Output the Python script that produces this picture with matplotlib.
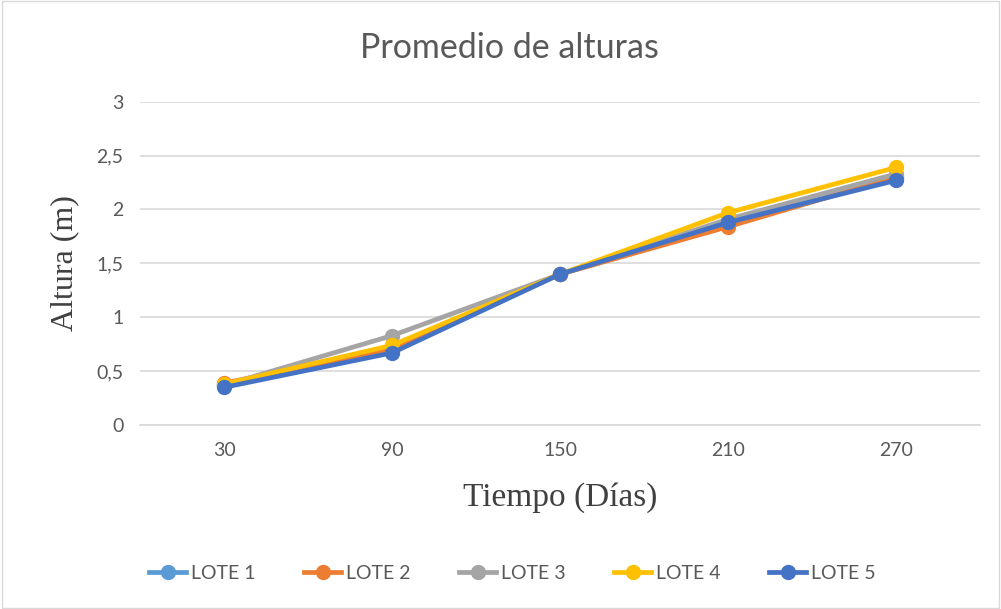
import numpy as np
import matplotlib.pyplot as plt
from matplotlib.ticker import FuncFormatter

# datos
dias = ['30', '90', '150', '210', '270']
lote1 = [0.37, 0.70, 1.40, 1.86, 2.29]
lote2 = [0.39, 0.70, 1.40, 1.84, 2.30]
lote3 = [0.37, 0.83, 1.40, 1.91, 2.33]
lote4 = [0.38, 0.74, 1.40, 1.97, 2.39]
lote5 = [0.35, 0.67, 1.40, 1.88, 2.27]
nombres = ['LOTE 1', 'LOTE 2', 'LOTE 3', 'LOTE 4', 'LOTE 5']
colores = ['#5B9BD5', '#ED7D31', '#A5A5A5', '#FFC000', '#4472C4']

fig = plt.figure(figsize=(10.01, 6.09), dpi=100)
ax = fig.add_axes([0.14, 0.302, 0.839, 0.531])

x = np.arange(len(dias))
for serie, nom, col in zip([lote1, lote2, lote3, lote4, lote5], nombres, colores):
    ax.plot(x, serie, '-o', color=col, lw=3.4, ms=10, label=nom)

ax.set_xlim(-0.5, 4.5)
ax.set_ylim(0, 3)
ax.set_yticks(np.arange(0, 3.01, 0.5))
ax.yaxis.set_major_formatter(FuncFormatter(lambda v, p: ('%g' % v).replace('.', ',')))
ax.set_xticks(x)
ax.set_xticklabels(dias)
ax.grid(axis='y', color='#D9D9D9', lw=1.2)
ax.set_axisbelow(True)
for s in ['top', 'right', 'left']:
    ax.spines[s].set_visible(False)
ax.spines['bottom'].set_color('#D9D9D9')
ax.spines['bottom'].set_linewidth(1.2)
ax.tick_params(length=0, colors='#595959', labelsize=14, pad=12)
for lab in ax.get_xticklabels() + ax.get_yticklabels():
    lab.set_family('Lato')

ax.set_xlabel('Tiempo (Días)', family='Liberation Serif', fontsize=24, color='#404040', labelpad=17)
ax.set_ylabel('Altura (m)', family='Liberation Serif', fontsize=23, color='#404040', labelpad=12)
fig.text(0.509, 0.921, 'Promedio de alturas', ha='center', va='center',
         family='Lato', fontsize=24.5, color='#595959')

leg = fig.legend(loc='center', bbox_to_anchor=(0.512, 0.059), ncol=5, frameon=False,
                 prop={'family': 'Lato', 'size': 14}, handlelength=1.9, columnspacing=2.5,
                 handletextpad=0.25)
for t in leg.get_texts():
    t.set_color('#595959')

fig.patches.append(plt.Rectangle((0.002, 0.002), 0.996, 0.996, transform=fig.transFigure,
                                 fill=False, edgecolor='#D9D9D9', lw=1))
fig.savefig('out.png', dpi=100)
